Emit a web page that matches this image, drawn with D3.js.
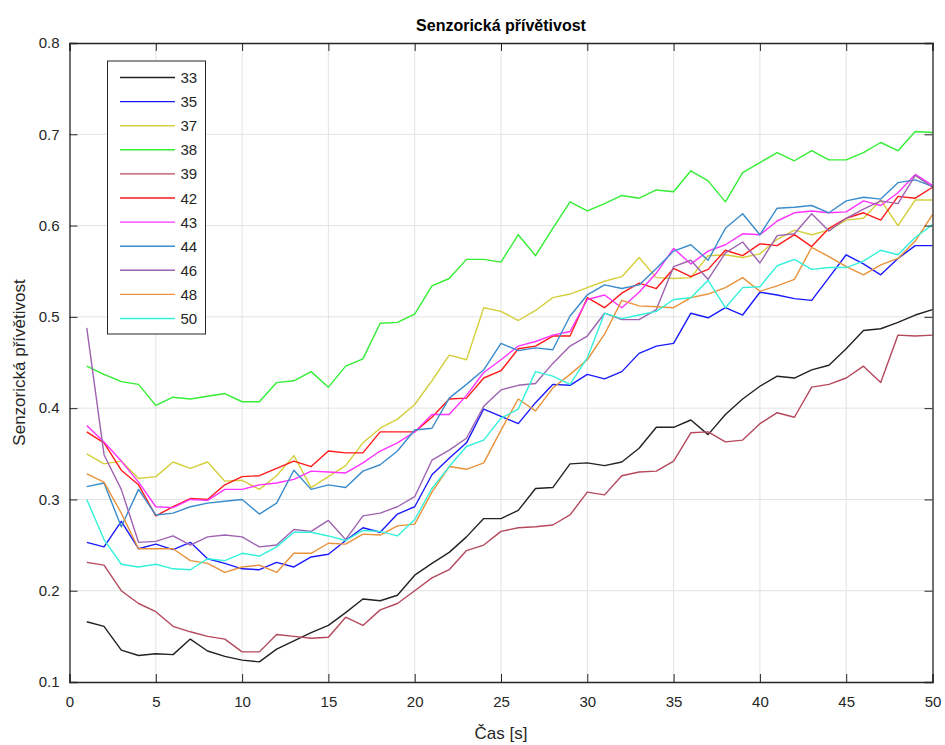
<!DOCTYPE html>
<html>
<head>
<meta charset="utf-8">
<script src="https://cdn.jsdelivr.net/npm/d3@7"></script>
<style>
  html, body { margin: 0; padding: 0; background: #fff; }
  svg { display: block; font-family: "Liberation Sans", Arial, Helvetica, sans-serif; }
</style>
</head>
<body>
<svg id="chart" width="945" height="745"></svg>
<script>
// Time axis: samples 1..50 s
const times = d3.range(1, 51);

const seriesNames = ["33", "35", "37", "38", "39", "42", "43", "44", "46", "48", "50"];
const seriesColors = ["#222222", "#1a1aff", "#d4cf3c", "#33ee33", "#b5485c", "#ff1a1a",
                      "#ff33ff", "#3a8ccc", "#9e63b0", "#e8923a", "#33f2da"];

const s33 = [0.166,0.161,0.135,0.129,0.131,0.130,0.147,0.134,0.128,0.124,
             0.122,0.136,0.145,0.154,0.162,0.176,0.191,0.189,0.195,0.217,
             0.230,0.242,0.259,0.279,0.279,0.288,0.312,0.313,0.339,0.340,
             0.337,0.341,0.356,0.379,0.379,0.387,0.371,0.393,0.410,0.424,
             0.435,0.433,0.442,0.447,0.465,0.485,0.487,0.494,0.502,0.508];
const s35 = [0.253,0.248,0.276,0.246,0.251,0.245,0.253,0.235,0.230,0.224,
             0.223,0.231,0.226,0.237,0.240,0.255,0.269,0.264,0.284,0.292,
             0.327,0.345,0.362,0.399,0.391,0.383,0.406,0.426,0.425,0.437,
             0.432,0.440,0.460,0.468,0.471,0.504,0.499,0.510,0.502,0.527,
             0.524,0.520,0.518,0.543,0.568,0.558,0.546,0.564,0.578,0.578];
const s37 = [0.350,0.339,0.342,0.323,0.325,0.341,0.334,0.341,0.320,0.321,
             0.311,0.326,0.348,0.313,0.325,0.337,0.362,0.378,0.388,0.404,
             0.430,0.458,0.453,0.510,0.506,0.496,0.507,0.521,0.525,0.532,
             0.539,0.544,0.565,0.543,0.542,0.543,0.567,0.568,0.565,0.569,
             0.585,0.595,0.590,0.595,0.606,0.608,0.628,0.600,0.628,0.628];
const s38 = [0.446,0.437,0.429,0.426,0.403,0.412,0.410,0.413,0.416,0.407,
             0.407,0.428,0.430,0.440,0.423,0.446,0.454,0.493,0.494,0.503,
             0.534,0.542,0.563,0.563,0.560,0.590,0.567,0.597,0.626,0.616,
             0.624,0.633,0.630,0.639,0.637,0.660,0.649,0.626,0.658,0.669,
             0.680,0.671,0.682,0.672,0.672,0.680,0.691,0.682,0.703,0.702];
const s39 = [0.231,0.228,0.200,0.186,0.177,0.161,0.155,0.150,0.147,0.133,
             0.133,0.152,0.150,0.148,0.149,0.171,0.162,0.179,0.186,0.200,
             0.214,0.223,0.244,0.250,0.265,0.269,0.270,0.272,0.283,0.308,
             0.305,0.326,0.330,0.331,0.342,0.373,0.374,0.363,0.365,0.383,
             0.395,0.390,0.423,0.426,0.433,0.446,0.428,0.480,0.479,0.480];
const s42 = [0.374,0.362,0.332,0.316,0.282,0.292,0.301,0.300,0.316,0.325,
             0.326,0.334,0.342,0.336,0.353,0.351,0.351,0.374,0.374,0.374,
             0.390,0.410,0.411,0.433,0.441,0.465,0.468,0.479,0.479,0.521,
             0.510,0.526,0.537,0.531,0.553,0.544,0.552,0.573,0.567,0.580,
             0.578,0.590,0.577,0.597,0.608,0.614,0.606,0.632,0.630,0.642];
const s43 = [0.381,0.363,0.342,0.319,0.292,0.291,0.300,0.299,0.311,0.311,
             0.316,0.318,0.322,0.331,0.330,0.329,0.340,0.353,0.362,0.374,
             0.393,0.393,0.414,0.439,0.453,0.468,0.473,0.480,0.484,0.519,
             0.524,0.510,0.527,0.548,0.575,0.558,0.572,0.579,0.591,0.590,
             0.605,0.614,0.616,0.614,0.615,0.627,0.622,0.636,0.656,0.644];
const s44 = [0.314,0.318,0.270,0.311,0.283,0.285,0.292,0.296,0.298,0.300,
             0.284,0.296,0.332,0.311,0.316,0.313,0.331,0.338,0.353,0.376,
             0.378,0.411,0.426,0.442,0.471,0.463,0.466,0.464,0.501,0.524,
             0.535,0.531,0.535,0.553,0.572,0.579,0.562,0.597,0.613,0.590,
             0.619,0.620,0.622,0.614,0.627,0.631,0.629,0.647,0.650,0.643];
const s46 = [0.488,0.349,0.311,0.253,0.254,0.260,0.250,0.259,0.261,0.259,
             0.248,0.250,0.267,0.265,0.277,0.256,0.282,0.285,0.292,0.303,
             0.343,0.354,0.367,0.402,0.420,0.425,0.427,0.449,0.468,0.479,
             0.504,0.497,0.497,0.508,0.555,0.562,0.541,0.570,0.582,0.559,
             0.589,0.591,0.613,0.594,0.608,0.618,0.627,0.624,0.655,0.642];
const s48 = [0.328,0.319,0.285,0.246,0.246,0.246,0.233,0.230,0.220,0.226,
             0.228,0.220,0.241,0.241,0.252,0.251,0.262,0.261,0.271,0.273,
             0.308,0.336,0.333,0.340,0.376,0.410,0.397,0.422,0.437,0.453,
             0.481,0.518,0.512,0.511,0.510,0.521,0.525,0.532,0.543,0.528,
             0.534,0.541,0.576,0.566,0.555,0.546,0.557,0.564,0.583,0.612];
const s50 = [0.300,0.256,0.229,0.226,0.229,0.224,0.223,0.235,0.233,0.241,
             0.238,0.248,0.264,0.264,0.260,0.255,0.266,0.265,0.260,0.278,
             0.312,0.336,0.358,0.365,0.389,0.399,0.440,0.435,0.426,0.455,
             0.504,0.498,0.502,0.506,0.519,0.521,0.540,0.510,0.532,0.533,
             0.556,0.563,0.552,0.554,0.554,0.561,0.573,0.568,0.587,0.601];

const seriesValues = [s33, s35, s37, s38, s39, s42, s43, s44, s46, s48, s50];

const xTicks = [0, 5, 10, 15, 20, 25, 30, 35, 40, 45, 50];
const yTicks = [0.1, 0.2, 0.3, 0.4, 0.5, 0.6, 0.7, 0.8];

const titleText = "Senzorická přívětivost";
const xLabelText = "Čas [s]";
const yLabelText = "Senzorická přívětivost";

// Layout
const margin = { left: 69.5, right: 12.5, top: 43, bottom: 63 };
const W = 945, H = 745;
const axisColor = "#262626";
const gridColor = "#e3e3e3";

const svg = d3.select("#chart");
const x = d3.scaleLinear().domain([0, 50]).range([margin.left, W - margin.right]);
const y = d3.scaleLinear().domain([0.1, 0.8]).range([H - margin.bottom, margin.top]);

const plot = svg.append("g");

// Grid lines
plot.append("g").selectAll("line.vg").data(xTicks.slice(1, -1)).join("line")
  .attr("x1", d => x(d)).attr("x2", d => x(d))
  .attr("y1", y(0.1)).attr("y2", y(0.8))
  .attr("stroke", gridColor).attr("stroke-width", 1);
plot.append("g").selectAll("line.hg").data(yTicks.slice(1, -1)).join("line")
  .attr("x1", x(0)).attr("x2", x(50))
  .attr("y1", d => y(d)).attr("y2", d => y(d))
  .attr("stroke", gridColor).attr("stroke-width", 1);

// Series lines, drawn in legend order
const line = d3.line().x((d, i) => x(times[i])).y(d => y(d));
seriesValues.forEach((vals, k) => {
  plot.append("path")
    .datum(vals)
    .attr("d", line)
    .attr("fill", "none")
    .attr("stroke", seriesColors[k])
    .attr("stroke-width", 1.4)
    .attr("stroke-linejoin", "round");
});

// Axes with inward ticks on all four sides
const tickLen = 8;
const fmt = d3.format(".1f");
const axB = svg.append("g").attr("transform", `translate(0,${y(0.1)})`)
  .call(d3.axisBottom(x).tickValues(xTicks).tickSize(-tickLen).tickPadding(14).tickFormat(d3.format("d")));
const axT = svg.append("g").attr("transform", `translate(0,${y(0.8)})`)
  .call(d3.axisTop(x).tickValues(xTicks).tickSize(-tickLen).tickFormat(""));
const axL = svg.append("g").attr("transform", `translate(${x(0)},0)`)
  .call(d3.axisLeft(y).tickValues(yTicks).tickSize(-tickLen).tickPadding(10).tickFormat(fmt));
const axR = svg.append("g").attr("transform", `translate(${x(50)},0)`)
  .call(d3.axisRight(y).tickValues(yTicks).tickSize(-tickLen).tickFormat(""));

[axB, axT, axL, axR].forEach(a => {
  a.select(".domain").attr("stroke", axisColor).attr("stroke-width", 1.3);
  a.selectAll(".tick line").attr("stroke", axisColor).attr("stroke-width", 1);
  a.selectAll(".tick text").attr("fill", axisColor)
    .style("font-size", "15px").style("font-family", "'Liberation Sans', Arial, sans-serif");
});

// Title and axis labels
svg.append("text")
  .attr("x", (x(0) + x(50)) / 2).attr("y", 31)
  .attr("text-anchor", "middle")
  .style("font-size", "16px").style("font-weight", "bold").attr("fill", "#000")
  .text(titleText);

svg.append("text")
  .attr("x", (x(0) + x(50)) / 2).attr("y", 739)
  .attr("text-anchor", "middle")
  .style("font-size", "17px").attr("fill", axisColor)
  .text(xLabelText);

svg.append("text")
  .attr("transform", `translate(25,${(y(0.1) + y(0.8)) / 2}) rotate(-90)`)
  .attr("text-anchor", "middle")
  .style("font-size", "17px").attr("fill", axisColor)
  .text(yLabelText);

// Legend
const legX = 107.5, legY = 61, legW = 98, legH = 273;
const legend = svg.append("g");
legend.append("rect")
  .attr("x", legX).attr("y", legY).attr("width", legW).attr("height", legH)
  .attr("fill", "#fff").attr("stroke", axisColor).attr("stroke-width", 1);
const rowStep = 24.1;
seriesNames.forEach((name, k) => {
  const cy = legY + 16.5 + k * rowStep;
  legend.append("line")
    .attr("x1", legX + 12.5).attr("x2", legX + 67.5)
    .attr("y1", cy).attr("y2", cy)
    .attr("stroke", seriesColors[k]).attr("stroke-width", 1.4);
  legend.append("text")
    .attr("x", legX + 73).attr("y", cy + 5.5)
    .style("font-size", "15px").attr("fill", axisColor)
    .text(name);
});
</script>
</body>
</html>
